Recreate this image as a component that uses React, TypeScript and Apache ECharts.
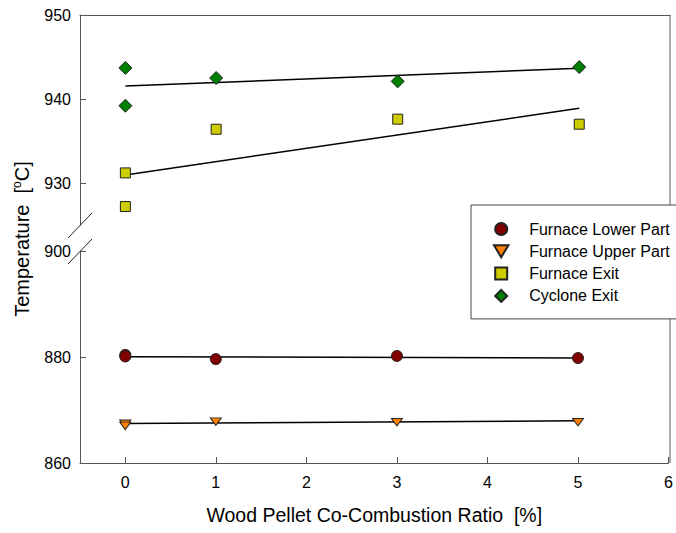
import React, { useEffect, useRef } from "react";
import * as echarts from "echarts";

const xTicks = [0, 1, 2, 3, 4, 5, 6];
const upperTicks = [930, 940, 950];
const lowerTicks = [860, 880, 900];

const seriesNames = ["Furnace Lower Part", "Furnace Upper Part", "Furnace Exit", "Cyclone Exit"];

const furnaceLower: number[][] = [[0, 880.4], [0, 880.1], [1, 879.6], [3, 880.2], [5, 879.8]];
const furnaceUpper: number[][] = [[0, 867.4], [0, 867.0], [1, 867.8], [3, 867.7], [5, 867.7]];
const furnaceExit: number[][] = [[0, 931.2], [0, 927.2], [1, 936.4], [3, 937.6], [5, 937.0]];
const cycloneExit: number[][] = [[0, 943.7], [0, 939.2], [1, 942.5], [3, 942.1], [5, 943.8]];

const fitLower: number[][] = [[0, 880.05], [5, 879.8]];
const fitUpper: number[][] = [[0, 867.45], [5, 867.95]];
const fitExit: number[][] = [[0, 930.95], [5, 938.9]];
const fitCyclone: number[][] = [[0, 941.55], [5, 943.65]];

const FONT = "'Liberation Sans', Arial, sans-serif";
const AXIS = "#555555";
const TRI_DOWN = "path://M0,0L12,0L6,10Z";
const SQUARE = "path://M0,0L10,0L10,10L0,10Z";
const DIAMOND = "path://M5,0L10,5L5,10L0,5Z";

export default function App() {
  const ref = useRef<HTMLDivElement>(null);
  useEffect(() => {
    if (!ref.current) return;
    const chart = echarts.init(ref.current, null, { renderer: "svg" });
    const L = 80, R = 670, T = 15, UB = 225, LT = 251, B = 463;
    const tickLabel = { color: "#000", fontFamily: FONT, fontSize: 16 };
    const fitLine = (name: string, data: number[][], idx: number) => ({
      type: "line",
      name,
      data,
      xAxisIndex: idx,
      yAxisIndex: idx,
      showSymbol: false,
      symbol: "none",
      silent: true,
      lineStyle: { color: "#000", width: 1.5 },
      z: 2,
    });
    const scatter = (name: string, data: number[][], idx: number, symbol: string, size: number | number[], color: string) => ({
      type: "scatter",
      name,
      data,
      xAxisIndex: idx,
      yAxisIndex: idx,
      symbol,
      symbolSize: size,
      symbolKeepAspect: true,
      itemStyle: { color, borderColor: "#222", borderWidth: 1, opacity: 1 },
      z: 3,
    });
    chart.setOption({
      animation: false,
      backgroundColor: "#fff",
      textStyle: { fontFamily: FONT },
      grid: [
        { left: L, top: T, width: R - L, height: UB - T, show: false },
        { left: L, top: LT, width: R - L, height: B - LT, show: false },
      ],
      xAxis: [
        {
          type: "value",
          gridIndex: 0,
          position: "top",
          min: -0.5,
          max: 6,
          axisLine: { show: true, onZero: false, lineStyle: { color: AXIS, width: 1 } },
          axisTick: { show: false },
          axisLabel: { show: false },
          splitLine: { show: false },
        },
        {
          type: "value",
          gridIndex: 1,
          position: "bottom",
          min: -0.5,
          max: 6,
          axisLine: { show: true, onZero: false, lineStyle: { color: AXIS, width: 1 } },
          axisTick: { show: true, inside: true, length: 6, customValues: xTicks, lineStyle: { color: AXIS } },
          axisLabel: { show: true, margin: 11, customValues: xTicks, ...tickLabel },
          splitLine: { show: false },
          name: "Wood Pellet Co-Combustion Ratio  [%]",
          nameLocation: "middle",
          nameGap: 42,
          nameTextStyle: { color: "#000", fontFamily: FONT, fontSize: 19.5 },
        },
      ],
      yAxis: [
        {
          type: "value",
          gridIndex: 0,
          min: 925,
          max: 950,
          axisLine: { show: true, onZero: false, lineStyle: { color: AXIS, width: 1 } },
          axisTick: { show: true, inside: true, length: 6, customValues: upperTicks, lineStyle: { color: AXIS } },
          axisLabel: { show: true, margin: 9, customValues: upperTicks, ...tickLabel },
          splitLine: { show: false },
        },
        {
          type: "value",
          gridIndex: 1,
          min: 860,
          max: 900,
          axisLine: { show: true, onZero: false, lineStyle: { color: AXIS, width: 1 } },
          axisTick: { show: true, inside: true, length: 6, customValues: lowerTicks, lineStyle: { color: AXIS } },
          axisLabel: { show: true, margin: 9, customValues: lowerTicks, ...tickLabel },
          splitLine: { show: false },
        },
      ],
      legend: {
        data: [
          { name: seriesNames[0], icon: "circle" },
          { name: seriesNames[1], icon: TRI_DOWN },
          { name: seriesNames[2], icon: SQUARE },
          { name: seriesNames[3], icon: DIAMOND },
        ],
        orient: "vertical",
        left: 471,
        top: 205,
        padding: [16, 30, 15, 22],
        itemWidth: 46,
        itemHeight: 12,
        itemGap: 6.3,
        symbolKeepAspect: true,
        backgroundColor: "#fff",
        borderColor: "#444",
        borderWidth: 1,
        borderRadius: 0,
        z: 10,
        textStyle: { color: "#000", fontFamily: FONT, fontSize: 16, lineHeight: 16 },
        selectedMode: false,
      },
      graphic: [
        { type: "line", z: 1, shape: { x1: R, y1: T, x2: R, y2: B }, style: { stroke: AXIS, lineWidth: 1 } },
        { type: "line", z: 1, shape: { x1: 68, y1: 238, x2: 92, y2: 213 }, style: { stroke: "#222", lineWidth: 1 } },
        { type: "line", z: 1, shape: { x1: 68, y1: 264, x2: 92, y2: 239 }, style: { stroke: "#222", lineWidth: 1 } },
        {
          type: "text",
          x: 22,
          y: 239,
          rotation: Math.PI / 2,
          style: {
            text: "{n|Temperature  [}{s|o}{n|C]}",
            align: "center",
            verticalAlign: "middle",
            fill: "#000",
            fontFamily: FONT,
            rich: {
              n: { fontSize: 20, fontFamily: FONT, fill: "#000", lineHeight: 22 },
              s: { fontSize: 12, fontFamily: FONT, fill: "#000", lineHeight: 12, verticalAlign: "top" },
            },
          },
        },
      ],
      series: [
        fitLine("fitLower", fitLower, 1),
        fitLine("fitUpper", fitUpper, 1),
        fitLine("fitExit", fitExit, 0),
        fitLine("fitCyclone", fitCyclone, 0),
        scatter(seriesNames[0], furnaceLower, 1, "circle", 11, "#800000"),
        scatter(seriesNames[1], furnaceUpper, 1, TRI_DOWN, [11, 9], "#FF8000"),
        scatter(seriesNames[2], furnaceExit, 0, SQUARE, 10, "#CCCC00"),
        scatter(seriesNames[3], cycloneExit, 0, DIAMOND, 13, "#008000"),
      ],
    });
    return () => chart.dispose();
  }, []);
  return <div ref={ref} style={{ position: "fixed", left: 0, top: 0, width: 676, height: 533 }} />;
}
